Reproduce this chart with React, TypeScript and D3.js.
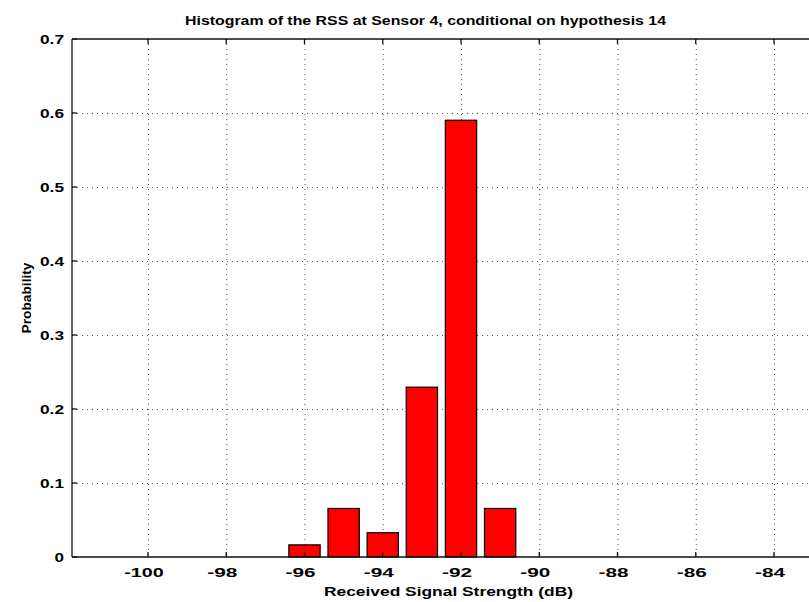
import { useEffect, useRef } from "react";
import * as d3 from "d3";

// histogram bins (dB) and their probabilities (counts / 61)
const binCenters = [-96, -95, -94, -93, -92, -91];
const probabilities = [0.0164, 0.0656, 0.0328, 0.2295, 0.5902, 0.0656];

const xTicks = [-100, -98, -96, -94, -92, -90, -88, -86, -84];
const yTicks = [0, 0.1, 0.2, 0.3, 0.4, 0.5, 0.6, 0.7];
const yTickLabels = ["0", "0.1", "0.2", "0.3", "0.4", "0.5", "0.6", "0.7"];

const title = "Histogram of the RSS at Sensor 4, conditional on hypothesis 14";
const xLabel = "Received Signal Strength (dB)";
const yLabel = "Probability";

// rough rendered width of the stretched bold tick font
const labelWidth = (s: string) =>
  Array.from(s).reduce((acc, c) => acc + (c === "." ? 5 : c === "-" ? 11 : 9.5), 0);

export default function App() {
  const svgRef = useRef<SVGSVGElement>(null);

  useEffect(() => {
    if (!svgRef.current) return;
    const width = 809;
    const height = 602;
    const left = 72;
    const right = 870;
    const top = 39;
    const bottom = 557;

    d3.select(svgRef.current).selectAll("*").remove();
    const svg = d3
      .select(svgRef.current)
      .attr("width", width)
      .attr("height", height);

    const x = d3.scaleLinear().domain([-100, -84]).range([148, 774]);
    const y = d3.scaleLinear().domain([0, 0.7]).range([bottom, top]);
    const font = "'Liberation Sans', Arial, Helvetica, sans-serif";

    svg.append("rect").attr("width", width).attr("height", height).attr("fill", "#fff");

    const grid = svg.append("g").attr("stroke", "#555").attr("stroke-width", 1).attr("stroke-dasharray", "1,4");
    grid
      .selectAll("line.vx")
      .data(xTicks)
      .join("line")
      .attr("x1", (d) => x(d) + 0.5)
      .attr("x2", (d) => x(d) + 0.5)
      .attr("y1", top)
      .attr("y2", bottom);
    grid
      .selectAll("line.hy")
      .data(yTicks.slice(1, -1))
      .join("line")
      .attr("x1", left)
      .attr("x2", right)
      .attr("y1", (d) => Math.round(y(d)) + 0.5)
      .attr("y2", (d) => Math.round(y(d)) + 0.5);

    // bars (MATLAB default width 0.8)
    svg
      .append("g")
      .selectAll("rect")
      .data(binCenters)
      .join("rect")
      .attr("x", (d) => x(d - 0.4))
      .attr("width", (d) => x(d + 0.4) - x(d - 0.4))
      .attr("y", (_, i) => y(probabilities[i]))
      .attr("height", (_, i) => y(0) - y(probabilities[i]))
      .attr("fill", "#ff0000")
      .attr("stroke", "#000")
      .attr("stroke-width", 1.2);

    // frame
    const axis = svg.append("g").attr("stroke", "#111").attr("stroke-width", 1.3).attr("fill", "none");
    axis.append("line").attr("x1", left).attr("x2", right).attr("y1", top).attr("y2", top);
    axis.append("line").attr("x1", left).attr("x2", right).attr("y1", bottom).attr("y2", bottom);
    axis.append("line").attr("x1", left).attr("x2", left).attr("y1", top).attr("y2", bottom);

    // ticks
    axis
      .selectAll("line.tb")
      .data(xTicks)
      .join("line")
      .attr("x1", (d) => x(d))
      .attr("x2", (d) => x(d))
      .attr("y1", bottom)
      .attr("y2", bottom - 5);
    axis
      .selectAll("line.tt")
      .data(xTicks)
      .join("line")
      .attr("x1", (d) => x(d))
      .attr("x2", (d) => x(d))
      .attr("y1", top)
      .attr("y2", top + 5);
    axis
      .selectAll("line.tl")
      .data(yTicks)
      .join("line")
      .attr("x1", left)
      .attr("x2", left + 5)
      .attr("y1", (d) => y(d))
      .attr("y2", (d) => y(d));

    const text = svg
      .append("g")
      .attr("font-family", font)
      .attr("font-weight", "bold")
      .attr("font-size", 13)
      .attr("fill", "#000");

    text
      .selectAll("text.xt")
      .data(xTicks)
      .join("text")
      .attr("x", (d) => x(d) - 4)
      .attr("y", 577)
      .attr("text-anchor", "middle")
      .attr("textLength", (d) => labelWidth(String(d)))
      .attr("lengthAdjust", "spacingAndGlyphs")
      .text((d) => String(d));

    text
      .selectAll("text.yt")
      .data(yTicks)
      .join("text")
      .attr("x", 64)
      .attr("y", (d) => y(d) + 5)
      .attr("text-anchor", "end")
      .attr("textLength", (_, i) => labelWidth(yTickLabels[i]))
      .attr("lengthAdjust", "spacingAndGlyphs")
      .text((_, i) => yTickLabels[i]);

    text
      .append("text")
      .attr("x", 185)
      .attr("y", 25)
      .attr("textLength", 481)
      .attr("lengthAdjust", "spacingAndGlyphs")
      .text(title);

    text
      .append("text")
      .attr("x", 324)
      .attr("y", 596)
      .attr("textLength", 249)
      .attr("lengthAdjust", "spacingAndGlyphs")
      .text(xLabel);

    text
      .append("text")
      .attr("transform", `translate(31,${(top + bottom) / 2}) rotate(-90)`)
      .attr("text-anchor", "middle")
      .attr("font-size", 12)
      .attr("textLength", 71)
      .attr("lengthAdjust", "spacingAndGlyphs")
      .text(yLabel);
  }, []);

  return (
    <svg
      ref={svgRef}
      style={{ position: "absolute", left: 0, top: 0, display: "block" }}
    />
  );
}
